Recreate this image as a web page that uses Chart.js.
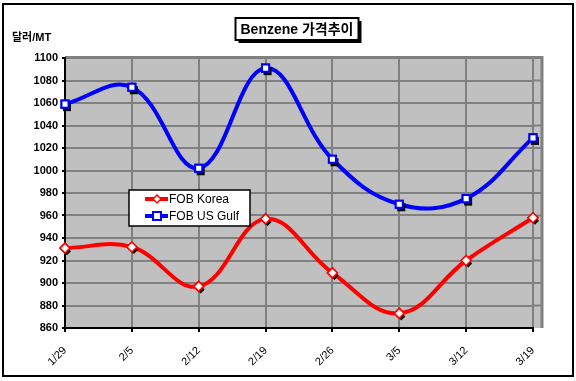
<!DOCTYPE html>
<html><head><meta charset="utf-8">
<script src="https://cdn.jsdelivr.net/npm/chart.js@4/dist/chart.umd.min.js"></script>
<style>html,body{margin:0;padding:0;background:#fff;}canvas{display:block;}</style>
</head><body>
<canvas id="c" width="576" height="381"></canvas>
<script>
const categories = ['1/29','2/5','2/12','2/19','2/26','3/5','3/12','3/19'];
const fobKorea = [931, 932, 897, 957, 909, 873, 920, 958];
const fobUSGulf = [1059, 1074, 1002, 1091, 1010, 970, 975, 1029];
const yMin = 860, yMax = 1100, yStep = 20;
const seriesNames = ['FOB Korea', 'FOB US Gulf'];
const titleText = 'Benzene 가격추이';
const unitText = '달러/MT';

const FONT = '"Liberation Sans", Arial, "Noto Sans CJK KR", sans-serif';

const decor = {
  id: 'decor',
  beforeDraw(chart) {
    const {ctx, chartArea: a} = chart;
    const ys = chart.scales.y;
    ctx.save();
    ctx.fillStyle = '#fff';
    ctx.fillRect(0, 0, chart.width, chart.height);
    ctx.strokeStyle = '#000'; ctx.lineWidth = 2;
    ctx.strokeRect(3, 4, 570, 372);
    const ext = 9;
    ctx.fillStyle = '#C0C0C0';
    ctx.fillRect(a.left, a.top, a.right - a.left + ext, a.bottom - a.top);
    ctx.strokeStyle = '#808080'; ctx.lineWidth = 2;
    for (let v = yMin + yStep; v < yMax; v += yStep) {
      const y = ys.getPixelForValue(v);
      ctx.beginPath(); ctx.moveTo(a.right, y); ctx.lineTo(a.right + ext, y); ctx.stroke();
    }
    ctx.lineWidth = 3;
    ctx.beginPath();
    ctx.moveTo(a.left, a.top - 0.5); ctx.lineTo(a.right + ext, a.top - 0.5);
    ctx.lineTo(a.right + ext, a.bottom);
    ctx.stroke();
    ctx.restore();
  },
  afterDraw(chart) {
    const {ctx} = chart;
    ctx.save();
    ctx.font = 'bold 14px ' + FONT;
    const tw = ctx.measureText(titleText).width;
    const cx = 297, cy = 29;
    const bx = cx - tw / 2 - 5, by = 18, bw = tw + 10, bh = 22;
    ctx.fillStyle = '#000';
    ctx.fillRect(bx + 3, by + 3, bw, bh);
    ctx.fillStyle = '#fff';
    ctx.fillRect(bx, by, bw, bh);
    ctx.strokeStyle = '#000'; ctx.lineWidth = 2;
    ctx.strokeRect(bx, by, bw, bh);
    ctx.fillStyle = '#000';
    ctx.textAlign = 'center'; ctx.textBaseline = 'middle';
    ctx.fillText(titleText, cx, cy + 1);
    ctx.font = 'bold 11px ' + FONT;
    ctx.textAlign = 'left';
    ctx.fillText(unitText, 12, 38);
    const lx = 129, ly = 190, lw = 121, lh = 36;
    ctx.fillStyle = '#fff';
    ctx.fillRect(lx, ly, lw, lh);
    ctx.strokeStyle = '#000'; ctx.lineWidth = 1.5;
    ctx.strokeRect(lx, ly, lw, lh);
    const ds = chart.data.datasets;
    ds.forEach((d, i) => {
      const y = ly + 9 + i * 17;
      ctx.strokeStyle = d.borderColor; ctx.lineWidth = 4;
      ctx.beginPath(); ctx.moveTo(lx + 16, y); ctx.lineTo(lx + 39, y); ctx.stroke();
      ctx.fillStyle = '#fff';
      ctx.strokeStyle = d.borderColor; ctx.lineWidth = d.pointBorderWidth;
      ctx.beginPath();
      if (d.pointStyle === 'rect') {
        ctx.rect(lx + 28 - 4, y - 4, 8, 8);
      } else {
        ctx.moveTo(lx + 28, y - 4); ctx.lineTo(lx + 32, y); ctx.lineTo(lx + 28, y + 4); ctx.lineTo(lx + 24, y); ctx.closePath();
      }
      ctx.fill(); ctx.stroke();
      ctx.fillStyle = '#000';
      ctx.font = '12px ' + FONT;
      ctx.textAlign = 'left'; ctx.textBaseline = 'middle';
      ctx.fillText(d.label, lx + 40, y + 1);
    });
    ctx.restore();
  },
  afterDatasetsDraw(chart) {
    const {ctx} = chart;
    ctx.save();
    chart.data.datasets.forEach((d, i) => {
      const meta = chart.getDatasetMeta(i);
      meta.data.forEach(pt => {
        ctx.fillStyle = '#000';
        const x = pt.x + 2, y = pt.y + 3;
        ctx.beginPath();
        if (d.pointStyle === 'rect') {
          ctx.rect(x - 4, y - 4, 8, 8);
        } else {
          ctx.moveTo(x, y - 4); ctx.lineTo(x + 4, y); ctx.lineTo(x, y + 4); ctx.lineTo(x - 4, y); ctx.closePath();
        }
        ctx.fill();
        pt.draw(ctx, chart.chartArea);
      });
    });
    ctx.restore();
  }
};

new Chart(document.getElementById('c'), {
  type: 'line',
  data: {
    labels: categories,
    datasets: [
      {label: seriesNames[0], data: fobKorea, borderColor: '#FF0000', borderWidth: 4,
       pointStyle: 'rectRot', pointRadius: 5, pointBorderWidth: 1.5, pointBackgroundColor: '#fff', pointBorderColor: '#FF0000',
       tension: 0.4, fill: false},
      {label: seriesNames[1], data: fobUSGulf, borderColor: '#0000FF', borderWidth: 4,
       pointStyle: 'rect', pointRadius: 5, pointBorderWidth: 2, pointBackgroundColor: '#fff', pointBorderColor: '#0000FF',
       tension: 0.4, fill: false}
    ]
  },
  options: {
    responsive: false,
    animation: false,
    devicePixelRatio: 1,
    layout: {padding: {top: 58, right: 43, left: 0, bottom: 0}},
    plugins: {legend: {display: false}, title: {display: false}, tooltip: {enabled: false}},
    scales: {
      x: {
        offset: false,
        grid: {color: '#808080', lineWidth: 2, drawTicks: true, tickLength: 4, tickColor: '#000'},
        border: {color: '#000', width: 2},
        ticks: {color: '#000', font: {family: FONT, size: 11}, maxRotation: 45, minRotation: 45, padding: 12, autoSkip: false},
        afterFit(s) { s.height = 53; }
      },
      y: {
        min: yMin, max: yMax,
        grid: {color: '#808080', lineWidth: 2, drawTicks: true, tickLength: 3, tickColor: '#000'},
        border: {color: '#000', width: 2},
        ticks: {stepSize: yStep, color: '#000', font: {family: FONT, size: 11, weight: 'bold'}, padding: 4,
                callback: v => String(v)},
        afterFit(s) { s.width = 65; }
      }
    }
  },
  plugins: [decor]
});
</script>
</body></html>
